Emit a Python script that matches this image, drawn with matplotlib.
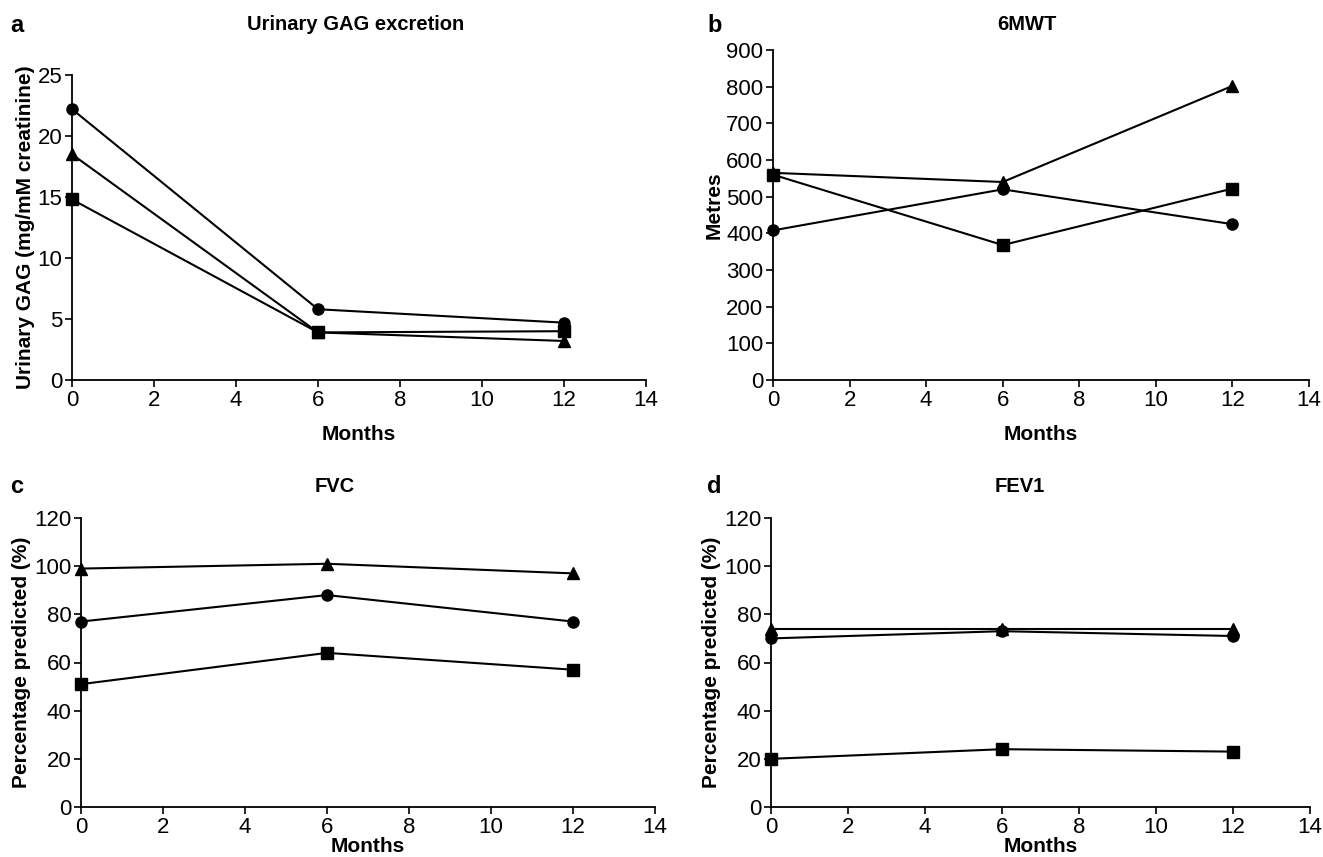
import matplotlib
matplotlib.use("Agg")
import matplotlib.pyplot as plt
from matplotlib import font_manager

names = {f.name for f in font_manager.fontManager.ttflist}
fam = "Liberation Sans Narrow" if "Liberation Sans Narrow" in names else "Liberation Sans"
plt.rcParams['font.family'] = [fam, 'DejaVu Sans']

months = [0, 6, 12]

gag_circle = [22.2, 5.8, 4.7]
gag_triangle = [18.5, 3.9, 3.2]
gag_square = [14.8, 3.9, 4.0]

mwt_circle = [408, 520, 425]
mwt_triangle = [565, 540, 802]
mwt_square = [560, 368, 522]

fvc_circle = [77, 88, 77]
fvc_triangle = [99, 101, 97]
fvc_square = [51, 64, 57]

fev_circle = [70, 73, 71]
fev_triangle = [74, 74, 74]
fev_square = [20, 24, 23]

xticks = [0, 2, 4, 6, 8, 10, 12, 14]

# pixel-based layout (fig 1323x857)
W, H = 1323.0, 857.0
def box(x0, x1, ytop, ybot):
    return [x0 / W, 1 - ybot / H, (x1 - x0) / W, (ybot - ytop) / H]

panels = [
    dict(pos=box(72, 646, 75, 380), letter="a", title="Urinary GAG excretion",
         ylabel="Urinary GAG (mg/mM creatinine)", ylim=25, ystep=5,
         series=[(gag_circle, 'o'), (gag_triangle, '^'), (gag_square, 's')],
         tx=356, ty=25, lx=10, ly=25, my=434, yl=0.5),
    dict(pos=box(773, 1309, 50, 380), letter="b", title="6MWT",
         ylabel="Metres", ylim=900, ystep=100,
         series=[(mwt_circle, 'o'), (mwt_triangle, '^'), (mwt_square, 's')],
         tx=1027, ty=25, lx=707, ly=25, my=434, yl=0.53),
    dict(pos=box(81, 655, 518, 807), letter="c", title="FVC",
         ylabel="Percentage predicted (%)", ylim=120, ystep=20,
         series=[(fvc_circle, 'o'), (fvc_triangle, '^'), (fvc_square, 's')],
         tx=335, ty=487, lx=10, ly=487, my=847, yl=0.5),
    dict(pos=box(771, 1310, 518, 807), letter="d", title="FEV1",
         ylabel="Percentage predicted (%)", ylim=120, ystep=20,
         series=[(fev_circle, 'o'), (fev_triangle, '^'), (fev_square, 's')],
         tx=1020, ty=487, lx=707, ly=487, my=847, yl=0.5),
]

fig = plt.figure(figsize=(13.23, 8.57), dpi=100)

for p in panels:
    ax = fig.add_axes(p["pos"])
    for vals, m in p["series"]:
        ax.plot(months, vals, color='black', lw=1.5, marker=m, markersize=8,
                markerfacecolor='black', markeredgecolor='black', clip_on=False, zorder=3)
    ax.set_xlim(0, 14)
    ax.set_ylim(0, p["ylim"])
    ax.set_xticks(xticks)
    ax.set_yticks(range(0, p["ylim"] + 1, p["ystep"]))
    ax.spines['top'].set_visible(False)
    ax.spines['right'].set_visible(False)
    for s in ('left', 'bottom'):
        ax.spines[s].set_linewidth(1.3)
    ax.tick_params(direction='out', length=5, width=1.2, labelsize=16, colors='black', pad=2)
    ax.set_ylabel(p["ylabel"], fontsize=15, fontweight='bold', labelpad=2)
    ax.yaxis.label.set_y(p["yl"])
    bb = p["pos"]
    fig.text(bb[0] + bb[2] / 2, 1 - p["my"] / H, "Months", ha='center', va='center',
             fontsize=15, fontweight='bold')
    fig.text(p["tx"] / W, 1 - p["ty"] / H, p["title"], ha='center', va='center',
             fontsize=14.5, fontweight='bold')
    fig.text(p["lx"] / W, 1 - p["ly"] / H, p["letter"], ha='left', va='center',
             fontsize=17, fontweight='bold')

fig.savefig("out.png", dpi=100)
